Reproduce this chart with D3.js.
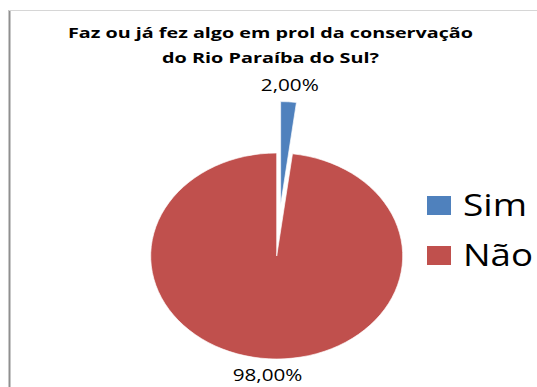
<!DOCTYPE html>
<html>
<head>
<meta charset="utf-8">
<script src="https://cdn.jsdelivr.net/npm/d3@7"></script>
<style>
  body { margin: 0; background: #fff; }
  svg { display: block; }
  text { font-family: "Open Sans", "Noto Sans", sans-serif; fill: #000; }
</style>
</head>
<body>
<svg width="537" height="387"></svg>
<script>
const categories = ['Sim', 'Não'];
const values = [2, 98];
const labels = ['2,00%', '98,00%'];
const explode = [0.5, 0];
const titleLines = ['Faz ou já fez algo em prol da conservação', 'do Rio Paraíba do Sul?'];

const svg = d3.select('svg');
const colors = d3.scaleOrdinal().domain(categories).range(['#4f81bd', '#c0504d']);

// frame (only left and top edges are visible in the crop)
svg.append('line')
  .attr('x1', 9.5).attr('x2', 9.5).attr('y1', 10).attr('y2', 387)
  .attr('stroke', '#8f8f8f').attr('stroke-width', 2);
svg.append('line')
  .attr('x1', 9).attr('x2', 537).attr('y1', 10.5).attr('y2', 10.5)
  .attr('stroke', '#d6d6d6').attr('stroke-width', 1);

// title
svg.selectAll('.title').data(titleLines)
  .enter().append('text')
    .attr('class', 'title')
    .attr('x', 270.5)
    .attr('y', (d, i) => 38 + i * 25)
    .attr('text-anchor', 'middle')
    .attr('font-size', 15)
    .attr('font-weight', 'bold')
    .attr('textLength', (d, i) => i === 0 ? 405 : 217)
    .attr('lengthAdjust', 'spacingAndGlyphs')
    .text(d => d);

// pie: drawn as a circle of radius ry, stretched horizontally into an ellipse
const cx = 276.7, cy = 256, rx = 126, ry = 103;
const pie = d3.pie().sort(null).value(d => d.value);
const arcs = pie(categories.map((c, i) => ({ cat: c, value: values[i], label: labels[i], explode: explode[i] })));
const arc = d3.arc().innerRadius(0).outerRadius(ry);

const offset = d => {
  const a = (d.startAngle + d.endAngle) / 2;
  return [Math.sin(a) * d.data.explode * ry, -Math.cos(a) * d.data.explode * ry];
};

const pieG = svg.append('g')
  .attr('transform', `translate(${cx},${cy}) scale(${rx / ry},1)`);

pieG.selectAll('path').data(arcs)
  .enter().append('path')
    .attr('transform', d => `translate(${offset(d)})`)
    .attr('d', arc)
    .attr('fill', d => colors(d.data.cat))
    .attr('stroke', '#fff')
    .attr('stroke-width', 0.6);

// data labels
const labelR = 1.16 * ry;
svg.selectAll('.dlabel').data(arcs)
  .enter().append('text')
    .attr('class', 'dlabel')
    .attr('x', d => {
      const a = (d.startAngle + d.endAngle) / 2;
      return cx + (offset(d)[0] + Math.sin(a) * labelR) * rx / ry;
    })
    .attr('y', d => {
      const a = (d.startAngle + d.endAngle) / 2;
      return cy + offset(d)[1] - Math.cos(a) * labelR;
    })
    .attr('dy', '0.35em')
    .attr('text-anchor', 'middle')
    .attr('font-size', 16)
    .attr('textLength', d => d.data.label.length * 11.6)
    .attr('lengthAdjust', 'spacingAndGlyphs')
    .text(d => d.data.label);

// legend
const legend = svg.selectAll('.legend').data(categories)
  .enter().append('g')
    .attr('class', 'legend')
    .attr('transform', (d, i) => `translate(427,${196 + i * 50})`);
legend.append('rect')
  .attr('width', 24).attr('height', 19)
  .attr('fill', d => colors(d));
legend.append('text')
  .attr('x', 36)
  .attr('y', 20)
  .attr('font-size', 31)
  .attr('textLength', (d, i) => i === 0 ? 64 : 70)
  .attr('lengthAdjust', 'spacingAndGlyphs')
  .text(d => d);
</script>
</body>
</html>
